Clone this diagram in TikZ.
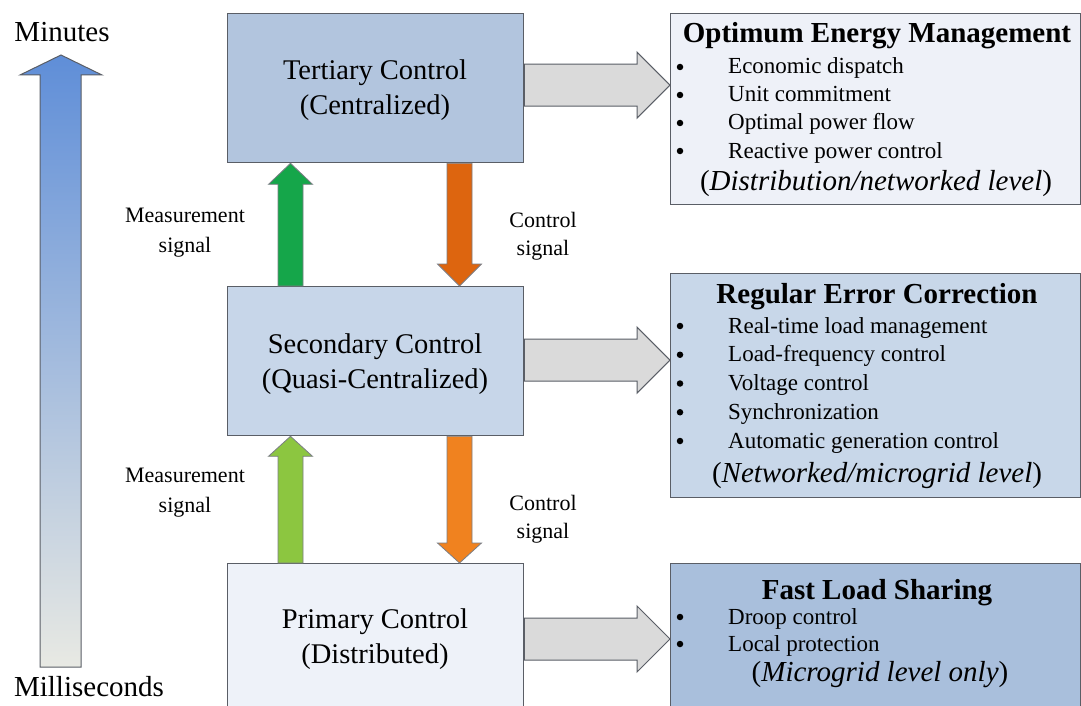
\documentclass[tikz,border=0pt]{standalone}
\usepackage{fontspec}
\setmainfont{Liberation Serif}
\usetikzlibrary{calc}

\definecolor{tertfill}{HTML}{B2C5DE}
\definecolor{secfill}{HTML}{C7D6E9}
\definecolor{primfill}{HTML}{EEF2F9}
\definecolor{optfill}{HTML}{EEF1F8}
\definecolor{regfill}{HTML}{C8D7E9}
\definecolor{fastfill}{HTML}{A9BFDC}
\definecolor{edge}{HTML}{5A5E66}
\definecolor{measA}{HTML}{15A64A}
\definecolor{measB}{HTML}{8CC640}
\definecolor{ctrlA}{HTML}{DD650F}
\definecolor{ctrlB}{HTML}{F0821F}
\definecolor{flowgrey}{HTML}{DADADA}
\definecolor{timetop}{HTML}{5F8ED8}
\definecolor{timebot}{HTML}{E8E9E3}

% vertical block arrow: #1 tail, #2 tip, #3 signed head length, #4 style
\newcommand\blockarrowv[4]{%
  \draw[#4] ($(#1)+(-12.5,0)$) -- ($(#2)+(-12.5,#3)$) -- ($(#2)+(-22,#3)$)
    -- (#2) -- ($(#2)+(22,#3)$) -- ($(#2)+(12.5,#3)$) -- ($(#1)+(12.5,0)$) -- cycle;}
% horizontal block arrow: #1 tail, #2 tip
\newcommand\blockarrowh[2]{%
  \draw[flowarrow] ($(#1)+(0,-21)$) -- ($(#2)+(-33,-21)$) -- ($(#2)+(-33,-33)$)
    -- (#2) -- ($(#2)+(-33,33)$) -- ($(#2)+(-33,21)$) -- ($(#1)+(0,21)$) -- cycle;}

\tikzset{
  ctrlbox/.style={draw=edge, line width=1.3pt, minimum width=296pt, inner sep=0pt,
    font=\fontsize{28.5}{35}\selectfont, align=center},
  ctrltext/.style={anchor=base, font=\fontsize{28.5}{35}\selectfont, inner sep=0pt},
  infobox/.style={draw=edge, line width=1.3pt, minimum width=410pt, inner sep=0pt},
  boxhead/.style={anchor=base, font=\fontsize{29}{34}\selectfont\bfseries, inner sep=0pt},
  boxitem/.style={anchor=base west, font=\fontsize{23}{28}\selectfont, inner sep=0pt},
  boxfoot/.style={anchor=base, font=\fontsize{29}{34}\selectfont, inner sep=0pt},
  dot/.style={circle, fill=black, inner sep=0pt, minimum size=6.5pt},
  sidelabel/.style={anchor=base, font=\fontsize{22}{26}\selectfont, inner sep=0pt},
  timelabel/.style={anchor=base, font=\fontsize{29}{34}\selectfont, inner sep=0pt},
  flowarrow/.style={draw=edge, line width=1pt, fill=flowgrey},
  sigarrow/.style={draw=edge!80, line width=0.8pt, fill=#1},
}

\begin{document}
\begin{tikzpicture}[x=1pt, y=-1pt]
\clip (0,0) rectangle (1081,706);
\fill[white] (0,0) rectangle (1081,706);

% time scale arrow
\node[timelabel] (minutes) at (62,42) {Minutes};
\node[timelabel] (millis) at (89,696) {Milliseconds};
\draw[draw=edge, line width=1pt, top color=timetop, bottom color=timebot]
  (40,667) -- (40,75) -- (20,75) -- (61,55) -- (102,75) -- (81,75) -- (81,667) -- cycle;

% control levels
\node[ctrlbox, fill=tertfill, minimum height=149pt, anchor=north west] (tert) at (227,13) {};
\node[ctrlbox, fill=secfill, minimum height=149pt, anchor=north west] (sec) at (227,286) {};
\node[ctrlbox, fill=primfill, minimum height=180pt, anchor=north west] (prim) at (227,563) {};

\node[ctrltext] (tertA) at (375,80) {Tertiary Control};
\node[ctrltext] (tertB) at (375,114) {(Centralized)};
\node[ctrltext] (secA) at (375,353) {Secondary Control};
\node[ctrltext] (secB) at (375,388) {(Quasi-Centralized)};
\node[ctrltext] (primA) at (375,628) {Primary Control};
\node[ctrltext] (primB) at (375,663) {(Distributed)};

% measurement and control signals
\coordinate (mUpTail) at ($(sec.north west)+(63.5,0)$);
\coordinate (mUpTip) at ($(tert.south west)+(63.5,0)$);
\coordinate (cDnTail) at ($(tert.south west)+(232.5,0)$);
\coordinate (cDnTip) at ($(sec.north west)+(232.5,0)$);
\coordinate (mUpTail2) at ($(prim.north west)+(63.5,0)$);
\coordinate (mUpTip2) at ($(sec.south west)+(63.5,0)$);
\coordinate (cDnTail2) at ($(sec.south west)+(232.5,0)$);
\coordinate (cDnTip2) at ($(prim.north west)+(232.5,0)$);
\blockarrowv{mUpTail}{mUpTip}{21}{sigarrow=measA}
\blockarrowv{cDnTail}{cDnTip}{-22}{sigarrow=ctrlA}
\blockarrowv{mUpTail2}{mUpTip2}{20}{sigarrow=measB}
\blockarrowv{cDnTail2}{cDnTip2}{-20}{sigarrow=ctrlB}

\node[sidelabel] (mA1) at (185,222) {Measurement};
\node[sidelabel] (mA2) at (185,252) {signal};
\node[sidelabel] (mB1) at (185,482) {Measurement};
\node[sidelabel] (mB2) at (185,512) {signal};
\node[sidelabel] (cA1) at (543,227) {Control};
\node[sidelabel] (cA2) at (543,255) {signal};
\node[sidelabel] (cB1) at (543,510) {Control};
\node[sidelabel] (cB2) at (543,538) {signal};

% function boxes
\node[infobox, fill=optfill, minimum height=191pt, anchor=north west] (opt) at (670,13) {};
\node[infobox, fill=regfill, minimum height=224pt, anchor=north west] (reg) at (670,273) {};
\node[infobox, fill=fastfill, minimum height=180pt, anchor=north west] (fast) at (670,563) {};

\coordinate (fA) at ($(tert.east)+(0,-3)$);
\coordinate (fB) at ($(sec.east)+(0,-1)$);
\coordinate (fC) at (tert.east |- 0,639);
\blockarrowh{fA}{opt.west |- fA}
\blockarrowh{fB}{reg.west |- fB}
\blockarrowh{fC}{fast.west |- fC}

% optimum energy management
\node[boxhead] (optH) at (877,43) {Optimum Energy Management};
\foreach \t [count=\i] in {Economic dispatch, Unit commitment, Optimal power flow, Reactive power control}{
  \pgfmathsetmacro\yy{74+28*(\i-1)}
  \node[dot] (optD\i) at (680,\yy-7) {};
  \node[boxitem] (optI\i) at (728,\yy) {\t};
}
\node[boxfoot] (optF) at (876,190) {(\textit{Distribution/networked level})};

% regular error correction
\node[boxhead] (regH) at (877,303) {Regular Error Correction};
\foreach \t [count=\i] in {Real-time load management, Load-frequency control, Voltage control, Synchronization, Automatic generation control}{
  \pgfmathsetmacro\yy{333+28.75*(\i-1)}
  \node[dot] (regD\i) at (680,\yy-7) {};
  \node[boxitem] (regI\i) at (728,\yy) {\t};
}
\node[boxfoot] (regF) at (877,482) {(\textit{Networked/microgrid level})};

% fast load sharing
\node[boxhead] (fastH) at (877,599) {Fast Load Sharing};
\foreach \t [count=\i] in {Droop control, Local protection}{
  \pgfmathsetmacro\yy{624+27*(\i-1)}
  \node[dot] (fastD\i) at (680,\yy-7) {};
  \node[boxitem] (fastI\i) at (728,\yy) {\t};
}
\node[boxfoot] (fastF) at (880,681) {(\textit{Microgrid level only})};
\end{tikzpicture}
\end{document}
